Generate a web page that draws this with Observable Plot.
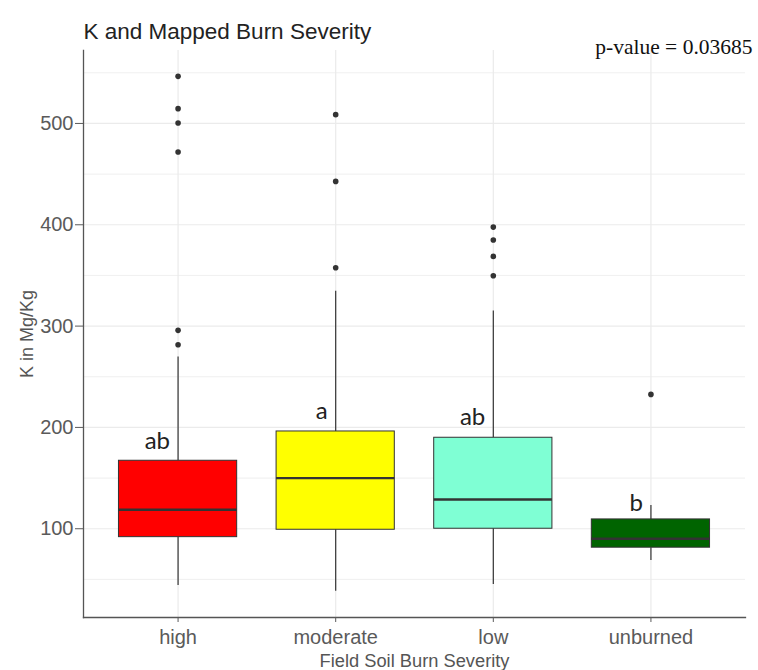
<!DOCTYPE html>
<html>
<head>
<meta charset="utf-8">
<script src="https://cdn.jsdelivr.net/npm/d3@7"></script>
<script src="https://cdn.jsdelivr.net/npm/@observablehq/plot@0.6"></script>
<style>
  html, body { margin: 0; padding: 0; background: #fff; }
  #chart { width: 758px; height: 670px; }
</style>
</head>
<body>
<div id="chart"></div>
<script>
// Burn severity classes and box-plot summaries of K (Mg/Kg)
const categories = ["high", "moderate", "low", "unburned"];
const boxColors = ["#ff0000", "#ffff00", "#7fffd4", "#006400"];
const lowerWhisker = [44, 38.4, 45, 68.7];
const q1 = [91.7, 99, 100, 81.3];
const median = [118.8, 150, 128.9, 90.1];
const q3 = [167.1, 196, 189.8, 109.2];
const upperWhisker = [269.4, 334.5, 314.8, 123];
const outliers = [
  [546.5, 514.6, 500.4, 471.8, 295.8, 281.6],
  [508.7, 442.8, 357.6],
  [397.7, 384.9, 368.8, 349.7],
  [232.6]
];
// Compact letter display from the post-hoc test
const groupLetters = ["ab", "a", "ab", "b"];
const letterY = [179, 208, 202, 118];
const pValueText = "p-value = 0.03685";

const yTicks = [100, 200, 300, 400, 500];
const yMinorTicks = [50, 150, 250, 350, 450, 550];
const yDomain = [12.4, 572];

const boxes = categories.map((c, i) => ({
  category: c,
  color: boxColors[i],
  lo: lowerWhisker[i],
  q1: q1[i],
  med: median[i],
  q3: q3[i],
  hi: upperWhisker[i],
  letter: groupLetters[i],
  letterY: letterY[i]
}));
const outlierRows = categories.flatMap((c, i) => outliers[i].map(v => ({category: c, value: v})));

const gridColor = "#ebebeb";
const ink = "#333333";

const chart = Plot.plot({
  width: 758,
  height: 670,
  marginTop: 50,
  marginBottom: 53,
  marginLeft: 83,
  marginRight: 13,
  style: {fontFamily: "'Liberation Sans', Arial, sans-serif", background: "#fff", overflow: "visible"},
  x: {type: "band", domain: categories, paddingInner: 0.25, paddingOuter: 0.225, round: false},
  y: {domain: yDomain},
  color: {type: "identity"},
  marks: [
    // panel grid
    Plot.ruleY(yMinorTicks, {stroke: gridColor, strokeWidth: 0.8}),
    Plot.ruleY(yTicks, {stroke: gridColor, strokeWidth: 1.2}),
    Plot.gridX({stroke: gridColor, strokeOpacity: 1, strokeWidth: 1.2}),
    // axis lines (left and bottom)
    Plot.frame({anchor: "left", stroke: "#555", strokeWidth: 1.3}),
    Plot.frame({anchor: "bottom", stroke: "#555", strokeWidth: 1.3}),
    // axes
    Plot.axisY(yTicks, {
      label: null, tickSize: 8, tickPadding: 2, fontSize: 20, color: "#5a5a5a"
    }),
    Plot.axisX({
      label: null, tickSize: 5, tickPadding: 7, fontSize: 20, color: "#5a5a5a"
    }),
    // whiskers
    Plot.ruleX(boxes, {x: "category", y1: "lo", y2: "q1", stroke: ink, strokeWidth: 1.2}),
    Plot.ruleX(boxes, {x: "category", y1: "q3", y2: "hi", stroke: ink, strokeWidth: 1.2}),
    // boxes
    Plot.barY(boxes, {x: "category", y1: "q1", y2: "q3", fill: "color", stroke: ink, strokeWidth: 1}),
    // medians
    Plot.tickY(boxes, {x: "category", y: "med", stroke: ink, strokeWidth: 2.4}),
    // outliers
    Plot.dot(outlierRows, {x: "category", y: "value", r: 2.8, fill: ink, stroke: null}),
    // group letters
    Plot.text(boxes, {
      x: "category", y: "letterY", text: "letter",
      textAnchor: "end", lineAnchor: "bottom", dx: -8,
      fontSize: 24, fontFamily: "Lato, 'Open Sans', sans-serif", fill: "#222"
    }),
    // titles
    Plot.text(["K and Mapped Burn Severity"], {
      text: d => d, frameAnchor: "top-left", textAnchor: "start", lineAnchor: "bottom",
      dy: -12, fontSize: 22.5, fill: "#222"
    }),
    Plot.text([pValueText], {
      text: d => d, frameAnchor: "top-right", textAnchor: "end", lineAnchor: "bottom",
      dx: 7, dy: 3, fontSize: 21.5, fill: "#111", fontFamily: "'Liberation Serif', 'Times New Roman', serif"
    }),
    Plot.text(["Field Soil Burn Severity"], {
      text: d => d, frameAnchor: "bottom", textAnchor: "middle", lineAnchor: "bottom",
      dy: 49, fontSize: 18.3, fill: "#555"
    }),
    Plot.text(["K in Mg/Kg"], {
      text: d => d, frameAnchor: "left", textAnchor: "middle", lineAnchor: "middle",
      dx: -56, rotate: -90, fontSize: 18, fill: "#555"
    })
  ]
});

document.getElementById("chart").appendChild(chart);
</script>
</body>
</html>
